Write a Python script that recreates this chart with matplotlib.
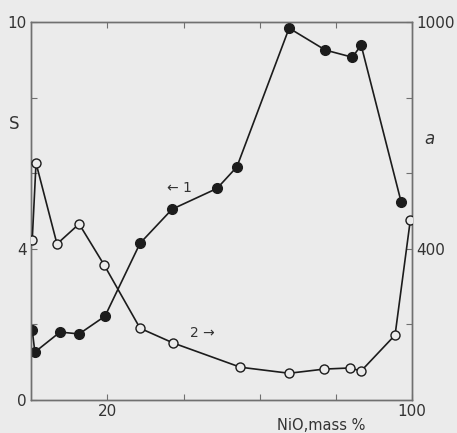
import matplotlib.pyplot as plt

# curve 1 (filled points, left axis S)
x1 = [0.3, 1.0, 7.6, 12.6, 19.4, 28.6, 37.0, 48.8, 54.0, 67.7, 77.2, 84.3, 86.6, 97.1]
s1 = [1.85, 1.27, 1.8, 1.75, 2.22, 4.15, 5.05, 5.6, 6.17, 9.84, 9.26, 9.07, 9.39, 5.24]

# curve 2 (open points, right axis a)
x2 = [0.3, 1.3, 6.8, 12.6, 19.2, 28.6, 37.3, 54.9, 67.7, 76.9, 83.7, 86.6, 95.5, 99.5]
a2 = [423, 627, 413, 466, 357, 190, 151, 87, 71, 82, 85, 77, 172, 476]

xticks = [20, 40, 60, 80, 100]
xlabels = ['20', '', '', '', '100']
sticks = [0, 2, 4, 6, 8, 10]
slabels = ['0', '', '4', '', '', '10']
aticks = [200, 400, 600, 800, 1000]
alabels = ['', '400', '', '', '1000']

bg = '#ebebeb'
ink = '#1c1c1c'
axc = '#707070'

plt.rcParams['font.family'] = 'DejaVu Sans'
fig = plt.figure(figsize=(4.57, 4.33), dpi=100, facecolor=bg)
ax = fig.add_axes([0.068, 0.076, 0.834, 0.873])
ax.set_facecolor(bg)
ax2 = ax.twinx()

ax.plot(x1, s1, '-', color=ink, lw=1.2, marker='o', ms=7, mfc=ink, mec=ink, zorder=3)
ax2.plot(x2, a2, '-', color=ink, lw=1.2, marker='o', ms=6.5, mfc=bg, mec=ink, mew=1.0, zorder=3)

ax.set_xlim(0, 100)
ax.set_ylim(0, 10)
ax2.set_ylim(0, 1000)

ax.set_xticks(xticks)
ax.set_xticklabels(xlabels)
ax.set_yticks(sticks)
ax.set_yticklabels(slabels)
ax2.set_yticks(aticks)
ax2.set_yticklabels(alabels)

for a in (ax, ax2):
    for sp in a.spines.values():
        sp.set_color(axc)
        sp.set_linewidth(1.0)
ax.tick_params(axis='both', direction='in', length=4, color=axc, labelsize=11,
               labelcolor='#333333', pad=3, top=True)
ax2.tick_params(axis='y', direction='in', length=4, color=axc, labelsize=11,
                labelcolor='#333333', pad=3)

ax.text(-4.5, 7.3, 'S', fontsize=12, color='#333333', ha='center', va='center')
ax2.text(104.5, 690, 'a', fontsize=12, color='#333333', ha='center', va='center',
         style='italic')
ax.text(76, -0.66, 'NiO,mass %', fontsize=10.5, color='#333333', ha='center', va='center')

ax.text(39, 5.6, '← 1', fontsize=10, color='#333333', ha='center', va='center')
ax.text(45, 1.77, '2 →', fontsize=10, color='#333333', ha='center', va='center')

plt.savefig('out.png', dpi=100, facecolor=bg)
